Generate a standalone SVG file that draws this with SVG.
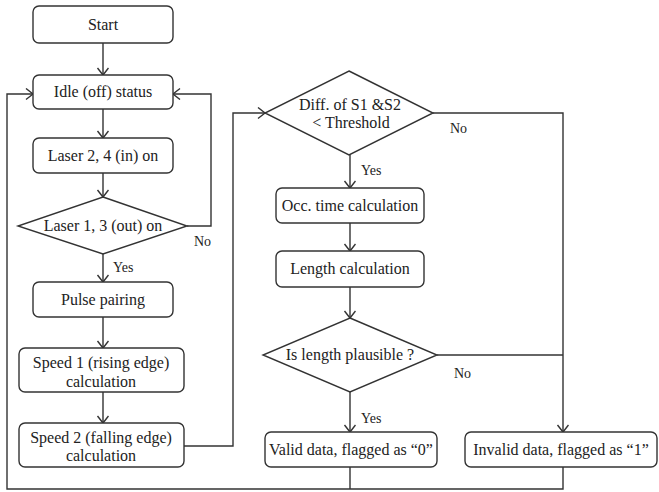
<svg xmlns="http://www.w3.org/2000/svg" width="659" height="492" viewBox="0 0 659 492">
<style>
.box{fill:#fff;stroke:#333;stroke-width:1.4}
.t{font-family:'Times New Roman','Liberation Serif','DejaVu Serif','Noto Serif',Georgia,serif;font-size:16px;fill:#222;text-anchor:middle}
.l{font-family:'Times New Roman','Liberation Serif','DejaVu Serif','Noto Serif',Georgia,serif;font-size:14px;fill:#222}
.c{fill:none;stroke:#333;stroke-width:1.4}
</style>
<defs>
<marker id="a" markerUnits="userSpaceOnUse" markerWidth="14" markerHeight="14" refX="8" refY="6" orient="auto">
<path d="M1,0.5 L8,6 L1,11.5" fill="none" stroke="#333" stroke-width="1.4"/>
</marker>
</defs>
<rect width="659" height="492" fill="#fff"/>
<g id="connectors" class="c">
<path d="M103,43 V75" marker-end="url(#a)"/>
<path d="M103,109 V138" marker-end="url(#a)"/>
<path d="M103,173 V197" marker-end="url(#a)"/>
<path d="M187,226 H211 V94 H173" marker-end="url(#a)"/>
<path d="M103,254 V282" marker-end="url(#a)"/>
<path d="M103,317 V348" marker-end="url(#a)"/>
<path d="M103,392 V423" marker-end="url(#a)"/>
<path d="M184,446 H233 V113 H265" marker-end="url(#a)"/>
<path d="M433,113 H563 V432" marker-end="url(#a)"/>
<path d="M350,155 V188" marker-end="url(#a)"/>
<path d="M350,223 V251" marker-end="url(#a)"/>
<path d="M350,287 V318" marker-end="url(#a)"/>
<path d="M437,355 H563"/>
<path d="M350,392 V432" marker-end="url(#a)"/>
<path d="M350,467 V489"/>
<path d="M563,467 V489 H7 V94 H33" marker-end="url(#a)"/>
</g>
<g id="start"><rect class="box" x="33" y="6" width="140" height="37" rx="6"/><text class="t" x="103" y="30">Start</text></g>
<g id="idle"><rect class="box" x="33" y="75" width="140" height="34" rx="6"/><text class="t" x="103" y="97">Idle (off) status</text></g>
<g id="laser24"><rect class="box" x="33" y="138" width="140" height="35" rx="6"/><text class="t" x="103" y="161">Laser 2, 4 (in) on</text></g>
<g id="laser13"><polygon class="box" points="103,197 187,226 103,254 18,226"/><text class="t" x="103" y="231">Laser 1, 3 (out) on</text></g>
<g id="pulse"><rect class="box" x="33" y="282" width="140" height="35" rx="6"/><text class="t" x="103" y="305">Pulse pairing</text></g>
<g id="speed1"><rect class="box" x="19" y="348" width="165" height="44" rx="6"/><text class="t" x="101" y="368">Speed 1 (rising edge)</text><text class="t" x="101" y="387">calculation</text></g>
<g id="speed2"><rect class="box" x="19" y="423" width="165" height="44" rx="6"/><text class="t" x="101" y="443">Speed 2 (falling edge)</text><text class="t" x="101" y="461">calculation</text></g>
<g id="diff"><polygon class="box" points="349,71 433,113 349,155 265,113"/><text class="t" x="350" y="110">Diff. of S1 &amp;S2</text><text class="t" x="351" y="128">&lt; Threshold</text></g>
<g id="occ"><rect class="box" x="276" y="188" width="148" height="35" rx="6"/><text class="t" x="350" y="211">Occ. time calculation</text></g>
<g id="length"><rect class="box" x="276" y="251" width="148" height="36" rx="6"/><text class="t" x="350" y="274">Length calculation</text></g>
<g id="plausible"><polygon class="box" points="350,318 437,355 350,392 263,355"/><text class="t" x="350" y="360">Is length plausible ?</text></g>
<g id="valid"><rect class="box" x="265" y="432" width="172" height="35" rx="6"/><text class="t" x="351" y="455">Valid data, flagged as “0”</text></g>
<g id="invalid"><rect class="box" x="465" y="432" width="192" height="35" rx="6"/><text class="t" x="561" y="455">Invalid data, flagged as “1”</text></g>
<g id="labels">
<text class="l" x="194" y="246">No</text>
<text class="l" x="113" y="272">Yes</text>
<text class="l" x="450" y="133">No</text>
<text class="l" x="361" y="175">Yes</text>
<text class="l" x="454" y="378">No</text>
<text class="l" x="361" y="423">Yes</text>
</g>
</svg>
